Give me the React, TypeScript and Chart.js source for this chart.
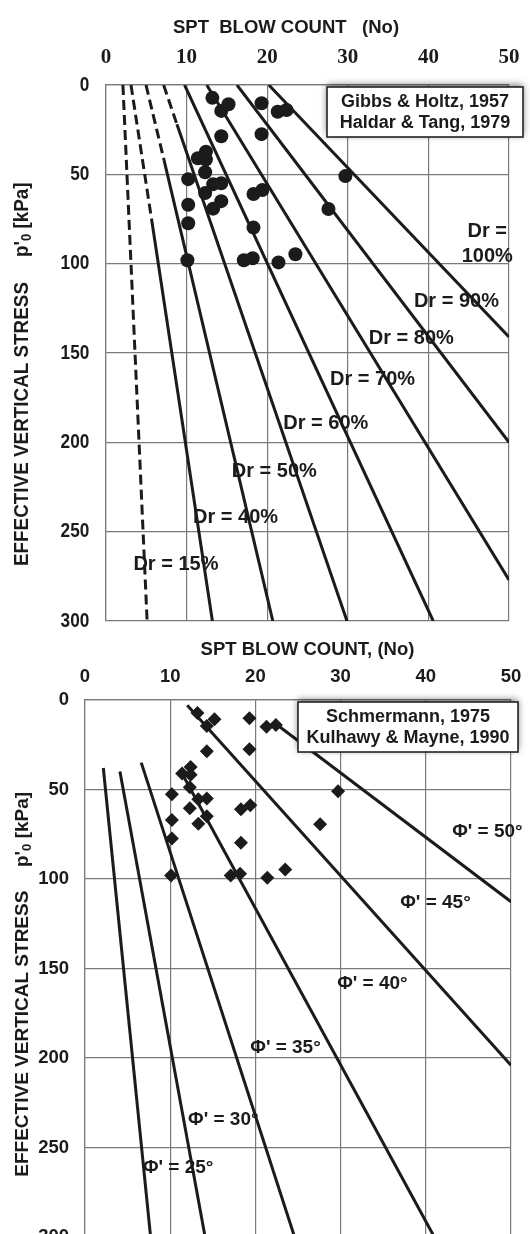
import React, { useEffect, useRef } from 'react';
import { Chart, registerables } from 'chart.js';
Chart.register(...registerables);

// ---------- axes ----------
const blowTicks = [0, 10, 20, 30, 40, 50];
const stressTicks = [0, 50, 100, 150, 200, 250, 300];

// ---------- measured data (SPT N, effective stress kPa) ----------
const blowCount = [13.2, 14.3, 15.2, 19.3, 21.3, 22.4, 14.3, 19.3, 12.4, 11.4, 12.4, 12.3, 10.2, 13.3, 14.3, 12.3, 18.3, 19.4, 10.2, 13.3, 14.3, 10.2, 18.3, 10.1, 17.1, 18.2, 21.4, 23.5, 29.7, 27.6];
const stress = [7.2, 14.5, 10.8, 10.2, 15, 14, 28.7, 27.5, 37.4, 41, 41.7, 48.8, 52.7, 55.5, 55, 60.5, 61, 58.8, 67, 69.2, 65, 77.4, 79.8, 98.1, 98.1, 97, 99.3, 94.7, 51, 69.4];

// ---------- chart 1: relative density lines (Gibbs & Holtz) ----------
const drNames = ['Dr = 15%', 'Dr = 40%', 'Dr = 50%', 'Dr = 60%', 'Dr = 70%', 'Dr = 80%', 'Dr = 90%', 'Dr =\n100%'];
const drStartN = [2.1, 3.1, 4.96, 7.15, 9.75, 12.5, 16.25, 20.2];
const drStartP = [0, 0, 0, 0, 0, 0, 0, 0];
const drBreakN = [5.1, 5.65, 7.2, 8.8, 9.75, 12.5, 16.25, 20.2];
const drBreakP = [300, 75, 42, 22, 0, 0, 0, 0];
const drEndN = [5.1, 13.2, 20.7, 29.9, 40.6, 50, 50, 50];
const drEndP = [300, 300, 300, 300, 300, 277, 200, 141];
const drLabelN = [3.4, 10.8, 15.6, 22.0, 27.8, 32.6, 38.2, 47.3];
const drLabelP = [268.6, 241.9, 216.4, 189.3, 164.7, 141.7, 121.3, 89];

// ---------- chart 2: friction angle lines (Schmermann) ----------
const phiNames = ["Φ' = 25°", "Φ' = 30°", "Φ' = 35°", "Φ' = 40°", "Φ' = 45°", "Φ' = 50°"];
const phiStartN = [2.15, 4.1, 6.6, 11.5, 12.0, 22.3];
const phiStartP = [38, 40, 35, 42, 3, 13];
const phiEndN = [7.7, 14.1, 24.6, 41.0, 50, 50];
const phiEndP = [300, 300, 300, 300, 204, 112.7];
const phiLabelN = [6.8, 12.1, 19.4, 29.6, 37.0, 43.1];
const phiLabelP = [261.6, 234.6, 194.1, 158.3, 113.2, 73.6];

const SANS = "'Liberation Sans', Arial, sans-serif";
const INK = '#1b1b1b';
const GRID = '#7a7a7a';

type Spec = {
  W: number; H: number;
  area: { left: number; top: number; right: number; bottom: number };
  xTickFont: any; xTickPad: number;
  yTickFont: string; yTickRight: number; yTickSqueeze: number;
  pointStyle: string; pointRadius: number;
  lines: { pts: { x: number; y: number }[]; dashedSegs: number }[];
  labels: { text: string; n: number; p: number; align: CanvasTextAlign }[];
  labelFont: string; labelLH: number;
  box: { x: number; y: number; w: number; h: number; cx: number; ys: number[]; lines: string[]; font: string };
  title: { text: string; x: number; y: number; font: string };
  yTitle: { x: number; mainStart: number; pStart: number; font: string; subFont: string; squeeze: number };
};

function makeConfig(s: Spec): any {
  const datasets: any[] = [];
  datasets.push({
    data: blowCount.map((n, i) => ({ x: n, y: stress[i] })),
    pointStyle: s.pointStyle,
    pointRadius: s.pointRadius,
    pointBackgroundColor: INK,
    pointBorderColor: INK,
    pointBorderWidth: 0,
    showLine: false,
    order: 0,
  });
  s.lines.forEach((l) =>
    datasets.push({
      data: l.pts,
      showLine: true,
      pointRadius: 0,
      borderColor: INK,
      borderWidth: 3,
      fill: false,
      tension: 0,
      order: 1,
      segment: {
        borderDash: (ctx: any) => (ctx.p0DataIndex < l.dashedSegs ? [10, 5] : []),
      },
    })
  );

  const annotate = {
    id: 'annotate',
    afterDatasetsDraw(chart: any) {
      const { ctx } = chart;
      const x = chart.scales.x, y = chart.scales.y;
      ctx.save();
      ctx.font = s.labelFont;
      ctx.fillStyle = INK;
      ctx.textBaseline = 'middle';
      s.labels.forEach((lb) => {
        const parts = lb.text.split('\n');
        ctx.textAlign = lb.align;
        const px = x.getPixelForValue(lb.n);
        const py = y.getPixelForValue(lb.p);
        parts.forEach((t, i) => ctx.fillText(t, px, py + (i - (parts.length - 1) / 2) * s.labelLH));
      });
      ctx.restore();
    },
    afterDraw(chart: any) {
      const { ctx } = chart;
      const yScale = chart.scales.y;
      // y tick labels (condensed face)
      ctx.save();
      ctx.font = s.yTickFont;
      ctx.fillStyle = INK;
      ctx.textAlign = 'right';
      ctx.textBaseline = 'middle';
      yScale.ticks.forEach((t: any) => {
        const py = yScale.getPixelForValue(t.value);
        ctx.save();
        ctx.translate(s.yTickRight, py);
        ctx.scale(s.yTickSqueeze, 1);
        ctx.fillText(String(t.value), 0, 0);
        ctx.restore();
      });
      ctx.restore();
      // legend box
      const b = s.box;
      ctx.save();
      ctx.shadowColor = 'rgba(0,0,0,0.55)';
      ctx.shadowBlur = 7;
      ctx.shadowOffsetX = 0;
      ctx.shadowOffsetY = -2;
      ctx.fillStyle = '#fff';
      ctx.fillRect(b.x, b.y, b.w, b.h);
      ctx.restore();
      ctx.save();
      ctx.strokeStyle = '#222';
      ctx.lineWidth = 1.6;
      ctx.strokeRect(b.x, b.y, b.w, b.h);
      ctx.font = b.font;
      ctx.fillStyle = INK;
      ctx.textAlign = 'center';
      ctx.textBaseline = 'middle';
      b.lines.forEach((t, i) => ctx.fillText(t, b.cx, b.ys[i]));
      // title
      ctx.font = s.title.font;
      ctx.fillText(s.title.text, s.title.x, s.title.y);
      // rotated y title
      const yt = s.yTitle;
      ctx.textAlign = 'left';
      ctx.textBaseline = 'alphabetic';
      ctx.save();
      ctx.translate(yt.x, yt.mainStart);
      ctx.rotate(-Math.PI / 2);
      ctx.scale(yt.squeeze, 1);
      ctx.font = yt.font;
      ctx.fillText('EFFECTIVE VERTICAL STRESS', 0, 0);
      ctx.restore();
      ctx.save();
      ctx.translate(yt.x, yt.pStart);
      ctx.rotate(-Math.PI / 2);
      ctx.scale(yt.squeeze, 1);
      ctx.font = yt.font;
      ctx.fillText("p'", 0, 0);
      let w = ctx.measureText("p'").width;
      ctx.font = yt.subFont;
      ctx.fillText('0', w, 3);
      w += ctx.measureText('0').width;
      ctx.font = yt.font;
      ctx.fillText(' [kPa]', w, 0);
      ctx.restore();
      ctx.restore();
    },
  };

  const a = s.area;
  return {
    type: 'scatter',
    data: { datasets },
    plugins: [annotate],
    options: {
      animation: false,
      responsive: false,
      maintainAspectRatio: false,
      events: [],
      layout: { padding: { left: 0, top: 0, right: s.W - a.right, bottom: s.H - a.bottom } },
      plugins: { legend: { display: false }, tooltip: { enabled: false } },
      scales: {
        x: {
          type: 'linear',
          position: 'top',
          min: 0,
          max: 50,
          afterBuildTicks: (sc: any) => { sc.ticks = blowTicks.map((v) => ({ value: v })); },
          afterFit: (sc: any) => {
            sc.height = a.top;
            sc.paddingLeft = 0; sc.paddingRight = 0; sc.paddingTop = 0; sc.paddingBottom = 0;
          },
          grid: { color: GRID, lineWidth: 1.2, drawTicks: false },
          border: { display: true, color: GRID, width: 1.2 },
          ticks: { font: s.xTickFont, color: INK, padding: s.xTickPad, maxRotation: 0, autoSkip: false },
        },
        y: {
          type: 'linear',
          reverse: true,
          min: 0,
          max: 300,
          afterBuildTicks: (sc: any) => { sc.ticks = stressTicks.map((v) => ({ value: v })); },
          afterFit: (sc: any) => {
            sc.width = a.left;
            sc.paddingLeft = 0; sc.paddingRight = 0; sc.paddingTop = 0; sc.paddingBottom = 0;
          },
          grid: { color: GRID, lineWidth: 1.2, drawTicks: false },
          border: { display: true, color: GRID, width: 1.2 },
          ticks: { display: false, autoSkip: false },
        },
      },
    },
  };
}

const topSpec: Spec = {
  W: 530, H: 640,
  area: { left: 106, top: 85, right: 509, bottom: 621 },
  xTickFont: { family: "'Liberation Serif', 'Times New Roman', serif", size: 21, weight: 'bold' },
  xTickPad: 15,
  yTickFont: 'bold 21px ' + SANS, yTickRight: 89.3, yTickSqueeze: 0.82,
  pointStyle: 'circle', pointRadius: 7,
  lines: drStartN.map((n0, i) => ({
    pts: [
      { x: n0, y: drStartP[i] },
      { x: drBreakN[i], y: drBreakP[i] },
      { x: drEndN[i], y: drEndP[i] },
    ],
    dashedSegs: 1,
  })),
  labels: drNames.map((t, i) => ({ text: t, n: drLabelN[i], p: drLabelP[i], align: (i === 7 ? 'center' : 'left') as CanvasTextAlign })),
  labelFont: 'bold 20px ' + SANS, labelLH: 25,
  box: { x: 327, y: 87, w: 196, h: 50, cx: 425, ys: [101.7, 123.3], lines: ['Gibbs & Holtz, 1957', 'Haldar & Tang, 1979'], font: 'bold 18px ' + SANS },
  title: { text: 'SPT  BLOW COUNT   (No)', x: 286, y: 27.5, font: 'bold 18.5px ' + SANS },
  yTitle: { x: 28, mainStart: 566, pStart: 257, font: 'bold 20.5px ' + SANS, subFont: 'bold 14px ' + SANS, squeeze: 0.92 },
};

const botSpec: Spec = {
  W: 530, H: 620,
  area: { left: 85, top: 60, right: 511, bottom: 597 },
  xTickFont: { family: SANS, size: 18.5, weight: 'bold' },
  xTickPad: 12.2,
  yTickFont: 'bold 18.5px ' + SANS, yTickRight: 69, yTickSqueeze: 1,
  pointStyle: 'rectRot', pointRadius: 7,
  lines: phiStartN.map((n0, i) => ({
    pts: [
      { x: n0, y: phiStartP[i] },
      { x: phiEndN[i], y: phiEndP[i] },
    ],
    dashedSegs: 0,
  })),
  labels: phiNames.map((t, i) => ({ text: t, n: phiLabelN[i], p: phiLabelP[i], align: 'left' as CanvasTextAlign })),
  labelFont: 'bold 19px ' + SANS, labelLH: 22,
  box: { x: 298, y: 62, w: 220, h: 50, cx: 408, ys: [77.3, 98.3], lines: ['Schmermann, 1975', 'Kulhawy & Mayne, 1990'], font: 'bold 18px ' + SANS },
  title: { text: 'SPT BLOW COUNT, (No)', x: 307.5, y: 10, font: 'bold 18.5px ' + SANS },
  yTitle: { x: 28, mainStart: 536.7, pStart: 227, font: 'bold 19px ' + SANS, subFont: 'bold 13px ' + SANS, squeeze: 1 },
};

export default function App() {
  const topRef = useRef<HTMLCanvasElement>(null);
  const botRef = useRef<HTMLCanvasElement>(null);
  useEffect(() => {
    const c1 = new Chart(topRef.current as HTMLCanvasElement, makeConfig(topSpec));
    const c2 = new Chart(botRef.current as HTMLCanvasElement, makeConfig(botSpec));
    return () => {
      c1.destroy();
      c2.destroy();
    };
  }, []);
  return (
    <div style={{ position: 'fixed', left: 0, top: 0, width: 530, height: 1234, overflow: 'hidden', background: '#fff' }}>
      <canvas ref={topRef} width={530} height={640} style={{ position: 'absolute', left: 0, top: 0 }} />
      <canvas ref={botRef} width={530} height={620} style={{ position: 'absolute', left: 0, top: 640 }} />
    </div>
  );
}
